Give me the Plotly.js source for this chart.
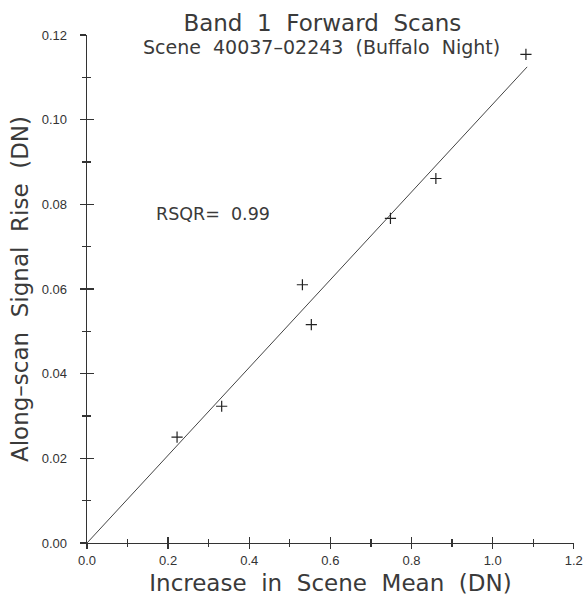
<!DOCTYPE html>
<html>
<head>
<meta charset="utf-8">
<script src="https://cdn.plot.ly/plotly-3.0.1.min.js"></script>
<style>html,body{margin:0;padding:0;background:#fff;}#chart{width:584px;height:599px;}</style>
</head>
<body>
<div id="chart"></div>
<script>
// Data
const sceneMeanIncrease = [0.222, 0.332, 0.531, 0.553, 0.748, 0.860, 1.082];
const signalRise        = [0.0250, 0.0323, 0.0610, 0.0516, 0.0767, 0.0861, 0.1154];
const fitRange = [0, 1.085];
const rsqrLabel = "RSQR=  0.99";
const xTickVals = [0, 0.2, 0.4, 0.6, 0.8, 1.0, 1.2];
const yTickVals = [0, 0.02, 0.04, 0.06, 0.08, 0.10, 0.12];

// least squares slope through origin
let sxy = 0, sxx = 0;
for (let i = 0; i < sceneMeanIncrease.length; i++) {
  sxy += sceneMeanIncrease[i] * signalRise[i];
  sxx += sceneMeanIncrease[i] * sceneMeanIncrease[i];
}
const slope = sxy / sxx;
const fitY = fitRange.map(x => slope * x);

const ink = '#333333';
const tickFont = {family: 'Liberation Sans, Arial, sans-serif', size: 13, color: ink};
const textFont = {family: 'DejaVu Sans, sans-serif', color: '#3a3a3a'};

const traces = [
  {x: fitRange, y: fitY, mode: 'lines', line: {color: '#444', width: 1}, hoverinfo: 'skip', showlegend: false},
  {x: sceneMeanIncrease, y: signalRise, mode: 'markers',
   marker: {symbol: 'cross-thin', size: 8, line: {color: '#222', width: 1.2}}, showlegend: false},
  {x: sceneMeanIncrease, y: signalRise, xaxis: 'x2', yaxis: 'y2', mode: 'markers',
   marker: {opacity: 0}, hoverinfo: 'skip', showlegend: false}
];

const common = {showgrid: false, zeroline: false, linecolor: ink, linewidth: 1.3, tickcolor: ink, tickwidth: 1.3};

const layout = {
  width: 584, height: 599,
  paper_bgcolor: '#ffffff', plot_bgcolor: '#ffffff',
  margin: {l: 87, r: 10, t: 35, b: 56},
  title: {text: 'Band  1  Forward  Scans', font: Object.assign({size: 23}, textFont),
          x: 0.552, xanchor: 'center', xref: 'container', y: 1 - 23/599, yanchor: 'middle', yref: 'container'},
  xaxis: Object.assign({}, common, {
    range: [0, 1.2005], tickvals: xTickVals, ticktext: xTickVals.map(v => v.toFixed(1)),
    ticks: 'outside', ticklen: 5, tickfont: tickFont, showline: true, ticklabeloverflow: 'allow',
    minor: {dtick: 0.1, tick0: 0, ticks: 'outside', ticklen: 3, tickcolor: ink, tickwidth: 1.3},
    title: {text: 'Increase  in  Scene  Mean  (DN)', font: Object.assign({size: 23}, textFont), standoff: 8}
  }),
  yaxis: Object.assign({}, common, {
    range: [0, 0.12], tickvals: yTickVals, ticktext: yTickVals.map(v => v.toFixed(2)),
    ticks: 'outside', ticklen: 6, tickfont: tickFont, showline: true, ticklabelstandoff: 10,
    minor: {dtick: 0.01, tick0: 0, ticks: 'outside', ticklen: 4, tickcolor: ink, tickwidth: 1.3},
    title: {text: 'Along\u2013scan  Signal  Rise  (DN)', font: Object.assign({size: 23}, textFont), standoff: 6}
  }),
  xaxis2: {overlaying: 'x', anchor: 'y', range: [0, 1.2005], showgrid: false, zeroline: false, showline: false,
    tickvals: xTickVals, showticklabels: false, ticks: 'inside', ticklen: 6, tickcolor: ink, tickwidth: 1.3,
    minor: {dtick: 0.1, tick0: 0, ticks: 'inside', ticklen: 4, tickcolor: ink, tickwidth: 1.3}},
  yaxis2: {overlaying: 'y', anchor: 'x', range: [0, 0.12], showgrid: false, zeroline: false, showline: false,
    tickvals: yTickVals, showticklabels: false, ticks: 'inside', ticklen: 7, tickcolor: ink, tickwidth: 1.3,
    minor: {dtick: 0.01, tick0: 0, ticks: 'inside', ticklen: 4, tickcolor: ink, tickwidth: 1.3}},
  annotations: [
    {text: 'Scene  40037\u201302243  (Buffalo  Night)', xref: 'paper', yref: 'paper', x: 0.481, y: 0.977,
     xanchor: 'center', yanchor: 'middle', showarrow: false, font: Object.assign({size: 19}, textFont)},
    {text: rsqrLabel, xref: 'x', yref: 'y', x: 0.165, y: 0.0778, xanchor: 'left', yanchor: 'middle',
     showarrow: false, font: Object.assign({size: 17.5}, textFont)}
  ]
};

Plotly.newPlot('chart', traces, layout, {displayModeBar: false, staticPlot: true});
</script>
</body>
</html>
